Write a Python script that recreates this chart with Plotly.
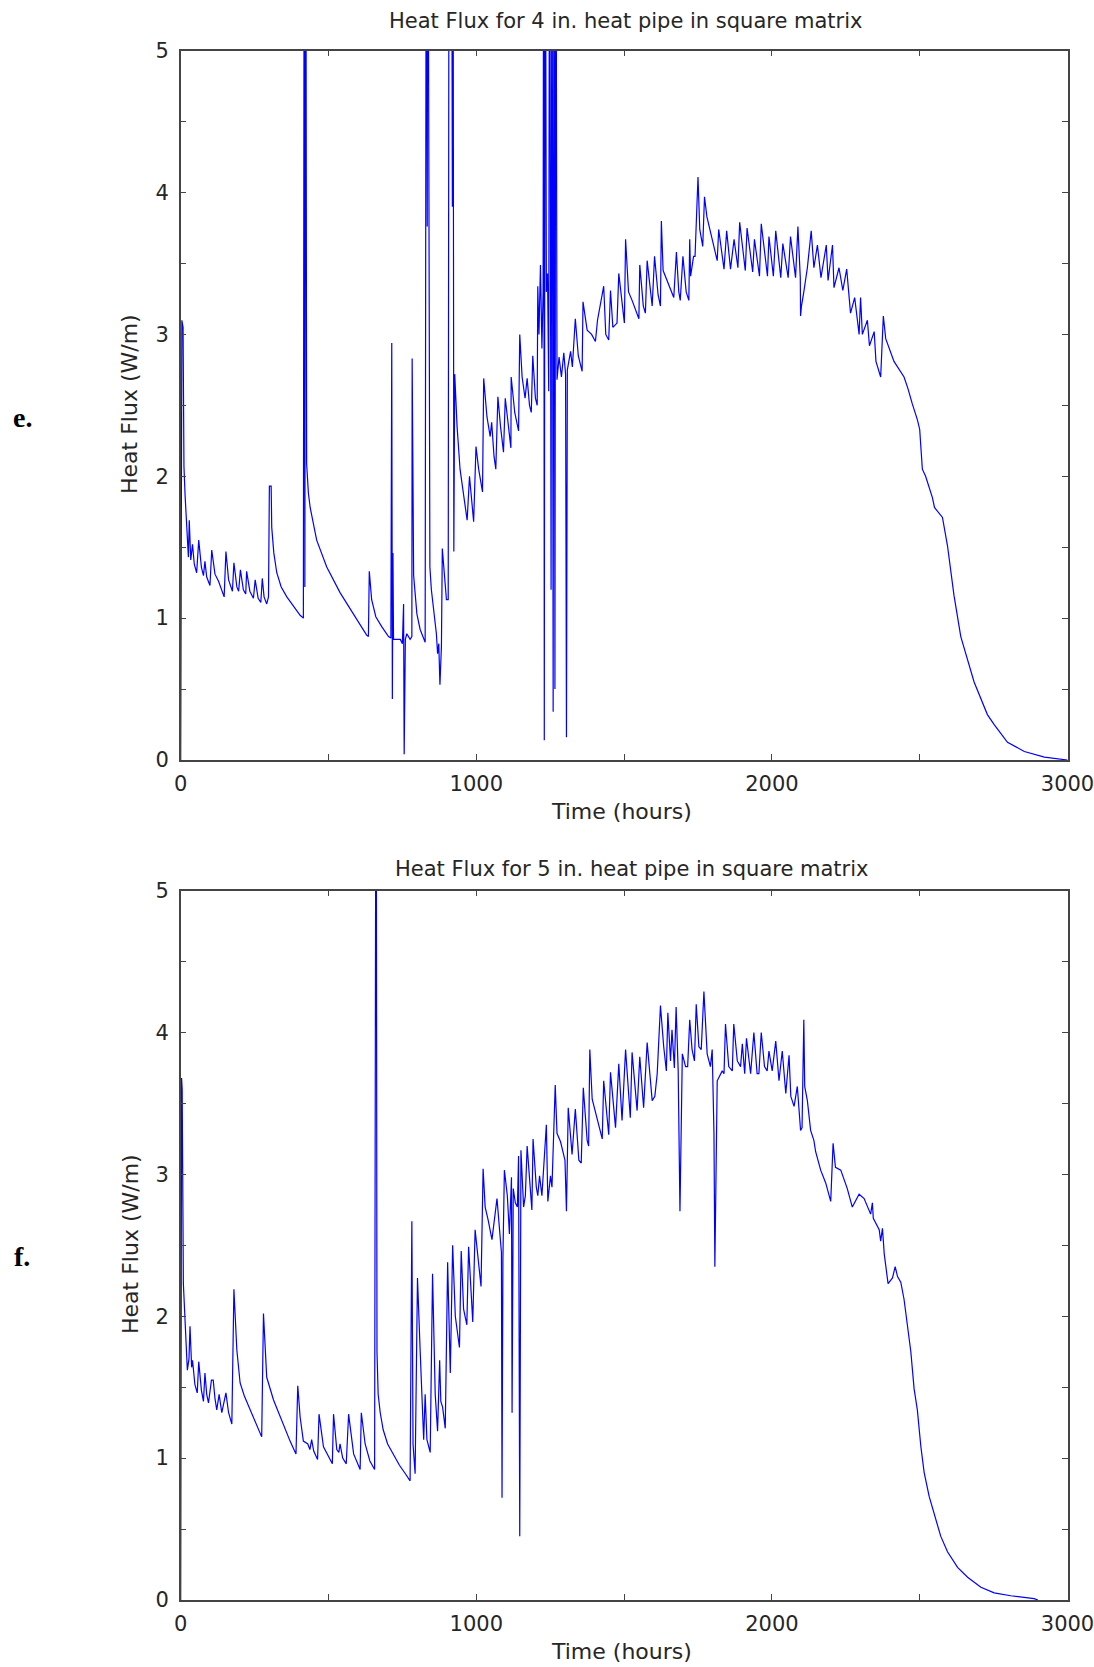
import plotly.graph_objects as go

# ---------------- data: panel e (4 in. heat pipe) ----------------
hours_4in = [0, 2, 4, 8, 11, 15, 20, 26, 29, 34, 40, 46, 54, 61, 70, 77, 82, 88, 99, 105,
             116, 128, 147, 153, 162, 175, 180, 190, 196, 202, 212, 220, 223, 234, 246, 252,
             262, 271, 276, 282, 291, 297, 300, 306, 308, 315, 325, 340, 359, 382, 404, 415,
             418, 420, 423, 426, 432, 438, 460, 494, 539, 584, 629, 635, 638, 646, 660, 680,
             703, 711, 714, 716, 718, 720, 743, 750, 754, 756, 760, 765, 776, 782, 783, 788,
             799, 810, 827, 831, 834, 836, 840, 843, 848, 860, 865, 869, 873, 877, 882, 885,
             891, 899, 905, 908, 916, 919, 921, 924, 927, 935, 945, 958, 969, 977, 985, 991,
             999, 1008, 1021, 1025, 1036, 1047, 1052, 1060, 1066, 1073, 1082, 1092, 1098, 1108,
             1117, 1118, 1130, 1143, 1147, 1155, 1165, 1172, 1180, 1186, 1191, 1200, 1206, 1208,
             1212, 1217, 1222, 1226, 1228, 1230, 1233, 1237, 1241, 1245, 1248, 1253, 1256, 1260,
             1263, 1266, 1269, 1273, 1280, 1288, 1296, 1302, 1305, 1308, 1319, 1325, 1335, 1345,
             1358, 1361, 1375, 1390, 1403, 1410, 1431, 1438, 1448, 1454, 1462, 1476, 1482, 1501,
             1505, 1515, 1527, 1550, 1553, 1565, 1572, 1578, 1595, 1603, 1615, 1623, 1626, 1632,
             1650, 1668, 1677, 1685, 1690, 1699, 1710, 1719, 1722, 1725, 1735, 1740, 1750, 1756,
             1766, 1772, 1780, 1795, 1815, 1820, 1838, 1847, 1860, 1872, 1885, 1891, 1910, 1916,
             1935, 1941, 1958, 1964, 1985, 1990, 2005, 2013, 2030, 2037, 2055, 2063, 2080, 2088,
             2096, 2097, 2100, 2108, 2120, 2133, 2142, 2154, 2166, 2184, 2190, 2205, 2210, 2227,
             2240, 2253, 2266, 2280, 2295, 2300, 2306, 2323, 2330, 2346, 2352, 2368, 2377, 2385,
             2413, 2447, 2460, 2475, 2492, 2500, 2509, 2520, 2543, 2550, 2577, 2594, 2616, 2639,
             2684, 2729, 2752, 2797, 2854, 2922, 3000]
flux_4in = [0, 1.8, 3.1, 3.05, 2.07, 1.86, 1.69, 1.43, 1.69, 1.41, 1.52, 1.38, 1.32, 1.55, 1.36,
            1.30, 1.40, 1.29, 1.23, 1.48, 1.31, 1.26, 1.15, 1.47, 1.27, 1.19, 1.39, 1.22, 1.19,
            1.34, 1.20, 1.17, 1.33, 1.19, 1.14, 1.27, 1.14, 1.11, 1.28, 1.15, 1.10, 1.15, 1.93,
            1.93, 1.64, 1.46, 1.32, 1.22, 1.15, 1.08, 1.02, 1.00, 7, 1.22, 7, 2.09, 1.88, 1.78,
            1.55, 1.36, 1.18, 1.03, 0.88, 0.87, 1.33, 1.13, 1.01, 0.94, 0.87, 0.86, 2.94, 0.43,
            1.46, 0.85, 0.85, 0.82, 1.10, 0.04, 0.85, 0.89, 0.85, 0.87, 2.83, 1.30, 1.03, 0.92,
            0.83, 7, 3.76, 7, 2.3, 1.36, 1.20, 0.99, 0.89, 0.75, 0.82, 0.53, 0.80, 1.49, 1.34,
            1.13, 1.13, 7, 7, 3.9, 7, 1.47, 2.72, 2.35, 2.05, 1.85, 1.69, 2.00, 1.80, 1.68, 2.21,
            2.05, 1.89, 2.69, 2.42, 2.28, 2.38, 2.14, 2.05, 2.56, 2.35, 2.17, 2.55, 2.35, 2.20,
            2.70, 2.45, 2.32, 3.00, 2.70, 2.55, 2.69, 2.50, 2.45, 2.85, 2.55, 2.50, 3.34, 3.00,
            3.49, 2.90, 3.30, 7, 0.14, 7, 3.30, 3.43, 2.60, 7, 1.20, 7, 0.34, 7, 0.50, 7, 2.68,
            2.84, 2.70, 2.87, 2.72, 0.16, 2.75, 2.88, 2.77, 3.11, 2.85, 2.74, 3.23, 3.03, 3.00,
            2.95, 3.10, 3.34, 3.00, 2.96, 3.31, 3.05, 3.08, 3.43, 3.08, 3.67, 3.30, 3.24, 3.11,
            3.49, 3.20, 3.15, 3.52, 3.20, 3.55, 3.28, 3.20, 3.80, 3.45, 3.35, 3.26, 3.58, 3.30,
            3.24, 3.55, 3.30, 3.24, 3.67, 3.41, 3.55, 3.55, 4.11, 3.74, 3.62, 3.97, 3.83, 3.70,
            3.52, 3.74, 3.46, 3.73, 3.46, 3.67, 3.47, 3.79, 3.45, 3.75, 3.44, 3.67, 3.41, 3.78,
            3.41, 3.69, 3.41, 3.73, 3.40, 3.64, 3.40, 3.69, 3.40, 3.76, 3.40, 3.13, 3.20, 3.30,
            3.47, 3.73, 3.47, 3.63, 3.40, 3.63, 3.38, 3.63, 3.33, 3.47, 3.31, 3.46, 3.15, 3.26,
            3.00, 3.26, 3.00, 3.10, 2.92, 3.02, 2.81, 2.70, 3.13, 2.97, 2.81, 2.70, 2.62, 2.51,
            2.40, 2.33, 2.05, 2.00, 1.85, 1.78, 1.71, 1.51, 1.16, 0.87, 0.55, 0.32, 0.25, 0.125,
            0.06, 0.02, 0.0]

# ---------------- data: panel f (5 in. heat pipe) ----------------
hours_5in = [0, 2, 3, 5, 9, 15, 20, 22.5, 28, 31.5, 37, 40, 48, 56, 61, 70, 77, 82, 88, 94,
             104, 110, 116, 122, 130, 139, 153, 162, 173, 180, 190, 201, 215, 235, 255, 274,
             280, 291, 314, 348, 370, 390, 396, 404, 415, 430, 437, 443, 450, 463, 468, 483,
             500, 513, 517, 528, 535, 539, 548, 560, 568, 585, 607, 611, 624, 640, 656, 661,
             664, 668, 675, 685, 700, 720, 740, 760, 776, 782, 786, 793, 801, 810, 816, 822,
             827, 833, 844, 852, 861, 869, 876, 880, 886, 895, 903, 912, 920, 929, 943, 949,
             957, 968, 974, 988, 996, 1016, 1023, 1030, 1040, 1053, 1070, 1080, 1085, 1087,
             1090, 1095, 1105, 1112, 1119, 1121, 1125, 1132, 1139, 1143, 1147, 1151, 1160,
             1166, 1172, 1188, 1192, 1203, 1208, 1214, 1222, 1237, 1242, 1251, 1256, 1267,
             1273, 1285, 1300, 1305, 1308, 1311, 1324, 1335, 1347, 1355, 1362, 1375, 1380,
             1384, 1392, 1409, 1426, 1431, 1448, 1454, 1471, 1482, 1493, 1505, 1521, 1527,
             1544, 1553, 1566, 1578, 1595, 1604, 1612, 1623, 1634, 1643, 1648, 1657, 1662,
             1670, 1676, 1683, 1689, 1697, 1708, 1715, 1722, 1730, 1738, 1744, 1753, 1761,
             1770, 1781, 1792, 1798, 1804, 1807, 1812, 1815, 1832, 1838, 1843, 1854, 1866,
             1871, 1883, 1894, 1900, 1908, 1914, 1928, 1939, 1950, 1956, 1964, 1975, 1984,
             1990, 2001, 2013, 2024, 2035, 2047, 2058, 2064, 2075, 2086, 2097, 2102, 2108,
             2111, 2120, 2131, 2142, 2148, 2165, 2182, 2199, 2207, 2215, 2233, 2255, 2272,
             2295, 2312, 2334, 2340, 2343, 2363, 2368, 2374, 2380, 2393, 2408, 2417, 2425,
             2436, 2447, 2458, 2470, 2481, 2492, 2504, 2515, 2532, 2549, 2571, 2594, 2628,
             2662, 2707, 2752, 2808, 2887, 2900]
flux_5in = [0, 2.0, 3.68, 3.6, 2.23, 2.00, 1.76, 1.62, 1.70, 1.93, 1.64, 1.69, 1.52, 1.46,
            1.68, 1.48, 1.40, 1.60, 1.45, 1.39, 1.55, 1.55, 1.42, 1.34, 1.45, 1.32, 1.46, 1.32,
            1.24, 2.19, 1.76, 1.53, 1.44, 1.34, 1.24, 1.15, 2.02, 1.57, 1.41, 1.23, 1.12, 1.03,
            1.51, 1.29, 1.12, 1.10, 1.06, 1.13, 1.05, 0.99, 1.31, 1.08, 1.01, 0.96, 1.31, 1.06,
            1.04, 1.10, 1.00, 0.96, 1.31, 1.03, 0.92, 1.32, 1.10, 0.98, 0.92, 7, 1.75, 1.45,
            1.32, 1.20, 1.10, 1.02, 0.95, 0.89, 0.84, 2.67, 1.10, 0.89, 2.27, 1.76, 1.43, 1.13,
            1.45, 1.13, 1.04, 2.30, 1.45, 1.19, 1.69, 1.40, 1.36, 1.21, 2.38, 1.60, 2.50, 2.0,
            1.78, 2.46, 2.05, 1.94, 2.49, 1.96, 2.61, 2.21, 3.04, 2.77, 2.68, 2.54, 2.83, 2.54,
            2.45, 0.72, 2.40, 3.03, 2.85, 2.58, 2.98, 1.32, 2.90, 2.80, 2.77, 3.13, 0.45, 3.17,
            2.77, 2.85, 3.20, 2.75, 3.25, 2.91, 2.85, 2.99, 2.85, 3.35, 2.81, 2.99, 2.91, 3.63,
            3.29, 3.23, 3.10, 2.74, 3.0, 3.47, 3.14, 3.46, 3.10, 3.08, 3.61, 3.24, 3.20, 3.88,
            3.53, 3.40, 3.25, 3.66, 3.28, 3.72, 3.33, 3.78, 3.38, 3.88, 3.40, 3.86, 3.45, 3.83,
            3.47, 3.93, 3.52, 3.55, 3.71, 4.19, 3.90, 3.73, 4.14, 3.80, 4.02, 3.75, 4.18, 3.73,
            2.74, 3.85, 3.76, 3.76, 4.09, 3.88, 3.80, 4.20, 3.90, 3.88, 4.29, 3.85, 3.76, 3.88,
            3.29, 2.35, 3.50, 3.66, 3.73, 3.71, 4.06, 3.76, 3.73, 4.06, 3.80, 3.76, 3.92, 3.71,
            3.96, 3.71, 4.00, 3.71, 3.71, 4.00, 3.76, 3.73, 3.87, 3.73, 3.94, 3.66, 3.87, 3.57,
            3.84, 3.55, 3.48, 3.62, 3.31, 3.33, 4.09, 3.62, 3.52, 3.31, 3.24, 3.16, 3.03, 2.94,
            2.81, 3.22, 3.05, 3.03, 2.90, 2.77, 2.86, 2.83, 2.72, 2.80, 2.69, 2.61, 2.53, 2.62,
            2.44, 2.23, 2.27, 2.35, 2.28, 2.24, 2.12, 1.94, 1.75, 1.49, 1.34, 1.08, 0.90, 0.73,
            0.60, 0.45, 0.34, 0.23, 0.16, 0.09, 0.05, 0.03, 0.01, 0.0]

titles = ["Heat Flux for 4 in. heat pipe in square matrix",
          "Heat Flux for 5 in. heat pipe in square matrix"]
panel_labels = ["e.", "f."]
x_title = "Time (hours)"
y_title = "Heat Flux (W/m)"

W, H = 1094, 1667
FONT = "DejaVu Sans"
TXT = "#262626"
AX = "#444444"

def px(x):
    return x / W

def py(y):
    return 1 - y / H

fig = go.Figure()
fig.add_trace(go.Scatter(x=hours_4in, y=flux_4in, mode="lines",
                         line=dict(color="#0000ff", width=1.2), xaxis="x", yaxis="y",
                         showlegend=False))
fig.add_trace(go.Scatter(x=hours_5in, y=flux_5in, mode="lines",
                         line=dict(color="#0000ff", width=1.2), xaxis="x2", yaxis="y2",
                         showlegend=False))

xdom = [px(180.7), px(1067.5)]
doms = [[py(760), py(50.7)], [py(1600), py(890.7)]]

def xaxis_cfg(anchor):
    return dict(domain=xdom, anchor=anchor, range=[0, 3000], dtick=1000, tick0=0,
                ticks="inside", ticklen=6, tickwidth=1, tickcolor=AX,
                minor=dict(dtick=500, tick0=0, ticks="inside", ticklen=6, tickcolor=AX),
                showline=True, linecolor=AX, linewidth=1.5, mirror="ticks",
                showgrid=False, zeroline=False, automargin=False,
                ticklabeloverflow="allow", ticklabelstandoff=4,
                tickfont=dict(family=FONT, size=21, color=TXT))

def yaxis_cfg(anchor, dom):
    return dict(domain=dom, anchor=anchor, range=[0, 5], dtick=1, tick0=0,
                ticks="inside", ticklen=6, tickwidth=1, tickcolor=AX,
                minor=dict(dtick=0.5, tick0=0, ticks="inside", ticklen=6, tickcolor=AX),
                showline=True, linecolor=AX, linewidth=1.5, mirror="ticks",
                showgrid=False, zeroline=False, ticklabelstandoff=6, automargin=False,
                ticklabeloverflow="allow",
                tickfont=dict(family=FONT, size=21, color=TXT))

fig.update_layout(
    width=W, height=H, margin=dict(l=0, r=0, t=0, b=0, pad=0, autoexpand=False),
    paper_bgcolor="white", plot_bgcolor="white",
    xaxis=xaxis_cfg("y"), yaxis=yaxis_cfg("x", doms[0]),
    xaxis2=xaxis_cfg("y2"), yaxis2=yaxis_cfg("x2", doms[1]),
)

annos = []
title_pos = [(625, 21), (631, 869)]
xt_pos = [(621, 811), (621, 1651)]
yt_pos = [(130, 404), (130, 1244)]
lab_pos = [(22, 417), (22, 1256)]
for i in range(2):
    annos.append(dict(text=titles[i], x=px(title_pos[i][0]), y=py(title_pos[i][1]),
                      xref="paper", yref="paper", showarrow=False,
                      xanchor="center", yanchor="middle",
                      font=dict(family=FONT, size=21, color=TXT)))
    annos.append(dict(text=x_title, x=px(xt_pos[i][0]), y=py(xt_pos[i][1]),
                      xref="paper", yref="paper", showarrow=False,
                      xanchor="center", yanchor="middle",
                      font=dict(family=FONT, size=22, color=TXT)))
    annos.append(dict(text=y_title, x=px(yt_pos[i][0]), y=py(yt_pos[i][1]),
                      xref="paper", yref="paper", showarrow=False, textangle=-90,
                      xanchor="center", yanchor="middle",
                      font=dict(family=FONT, size=22, color=TXT)))
    annos.append(dict(text="<b>" + panel_labels[i] + "</b>", x=px(lab_pos[i][0]),
                      y=py(lab_pos[i][1]), xref="paper", yref="paper", showarrow=False,
                      xanchor="center", yanchor="middle",
                      font=dict(family="Liberation Serif", size=28, color="#000000")))
fig.update_layout(annotations=annos)

fig.write_html("out.html")
